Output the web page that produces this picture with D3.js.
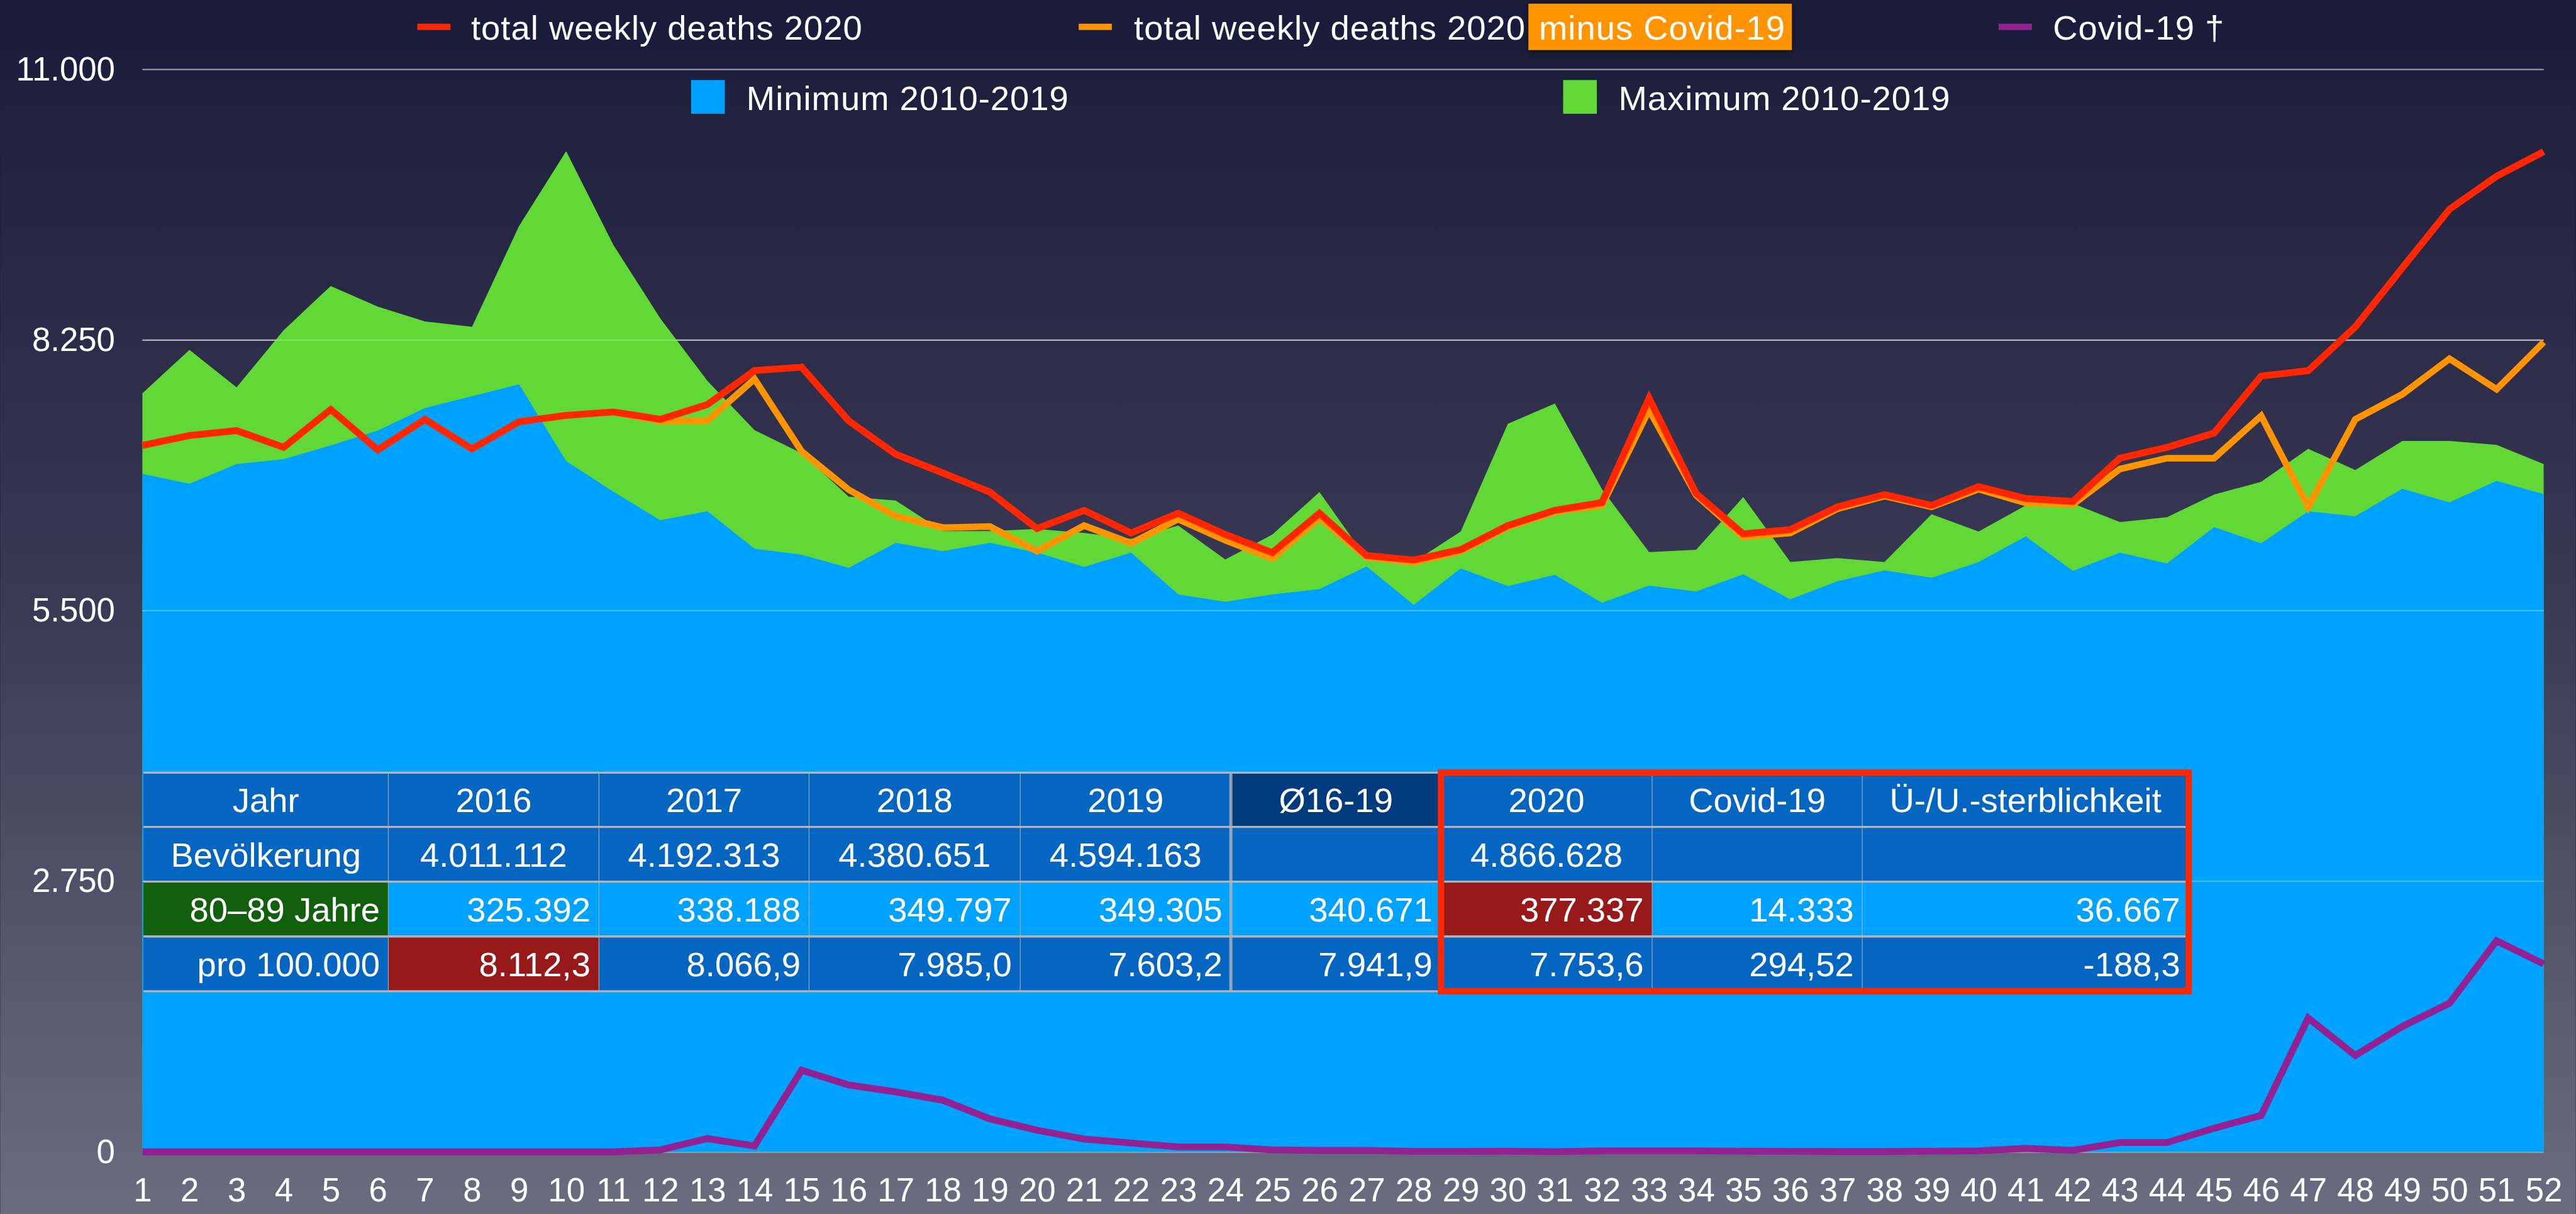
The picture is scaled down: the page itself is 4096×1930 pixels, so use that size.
<!DOCTYPE html>
<html>
<head>
<meta charset="utf-8">
<script src="https://cdn.jsdelivr.net/npm/d3@7"></script>
<style>
  html, body { margin: 0; padding: 0; background: #1a1b3b; overflow: hidden; }
  svg { display: block; }
</style>
</head>
<body>
<svg id="chart" width="4096" height="1930" viewBox="0 0 4891 2305"></svg>
<script>
// ---- data -------------------------------------------------------------
const weeks = [1,2,3,4,5,6,7,8,9,10,11,12,13,14,15,16,17,18,19,20,21,22,23,24,25,26,
               27,28,29,30,31,32,33,34,35,36,37,38,39,40,41,42,43,44,45,46,47,48,49,50,51,52];
const yTicks = [0, 2750, 5500, 8250, 11000];

const minimum2010_2019 = [6890,6790,6990,7040,7180,7330,7560,7680,7800,7020,6710,6420,6510,6130,6070,5935,
  6190,6105,6190,6090,5945,6090,5665,5590,5665,5720,5950,5560,5930,5750,5865,5580,5755,5695,5870,5615,
  5800,5910,5835,5995,6255,5905,6090,5980,6350,6185,6510,6460,6740,6600,6820,6685];

const maximum2010_2019 = [7710,8150,7770,8350,8800,8590,8440,8385,9410,10170,9220,8470,7835,7335,7100,6660,
  6620,6310,6310,6330,6290,6230,6365,6020,6275,6705,6030,5995,6305,7400,7605,6735,6095,6120,6655,5995,
  6035,5995,6480,6305,6570,6590,6400,6450,6680,6810,7145,6930,7225,7225,7185,6990];

const deaths2020 = [7180,7280,7330,7160,7545,7135,7445,7145,7420,7485,7520,7445,7595,7940,7975,7430,
  7090,6900,6705,6335,6520,6290,6490,6275,6090,6490,6060,6015,6120,6365,6520,6600,7660,6690,6280,6325,
  6555,6680,6570,6760,6640,6610,7050,7160,7305,7885,7940,8385,8985,9580,9915,10165];

const deaths2020MinusCovid = [7180,7280,7330,7160,7545,7135,7445,7145,7420,7485,7520,7425,7430,7855,7120,6730,
  6460,6345,6355,6105,6365,6185,6430,6215,6030,6445,6045,5990,6105,6350,6505,6570,7540,6675,6250,6290,
  6535,6665,6555,6735,6595,6580,6940,7050,7050,7480,6555,7445,7700,8060,7750,8230];

const covid19 = [0,0,0,0,0,0,0,0,0,0,0,20,135,60,830,680,610,525,335,220,130,90,50,50,20,15,
  15,5,5,7,2,10,10,10,7,5,3,3,7,10,35,15,95,95,240,370,1360,980,1275,1510,2145,1910];

const legendRow1 = ["total weekly deaths 2020", "total weekly deaths 2020", "Covid-19 †"];
const legendHighlight = "minus Covid-19";
const legendRow2 = ["Minimum 2010-2019", "Maximum 2010-2019"];

const tableHeader  = ["Jahr", "2016", "2017", "2018", "2019", "Ø16-19", "2020", "Covid-19", "Ü-/U.-sterblichkeit"];
const tablePop     = ["Bevölkerung", "4.011.112", "4.192.313", "4.380.651", "4.594.163", "", "4.866.628", "", ""];
const tableAge8089 = ["80–89 Jahre", "325.392", "338.188", "349.797", "349.305", "340.671", "377.337", "14.333", "36.667"];
const tablePer100k = ["pro 100.000", "8.112,3", "8.066,9", "7.985,0", "7.603,2", "7.941,9", "7.753,6", "294,52", "-188,3"];

// ---- styles -----------------------------------------------------------
const FONT = "'Liberation Sans', Arial, Helvetica, sans-serif";
const C = {
  red: "#ff2600", orange: "#ff9300", purple: "#942192",
  blue: "#00a2ff", green: "#61d836",
  cell: "#0466c1", cellDark: "#003b7e", cellGreen: "#125f0e", cellRed: "#97191a",
  rule: "#b4b4b8"
};

// ---- setup ------------------------------------------------------------
const svg = d3.select("#chart");
const W = 4891, H = 2305;
const x = d3.scaleLinear().domain([1, 52]).range([270, 4830]);
const y = d3.scaleLinear().domain([0, 11000]).range([2187, 132]);
const de = d3.formatLocale({ decimal: ",", thousands: ".", grouping: [3], currency: ["", " €"] });
const fmtInt = de.format(",");

const defs = svg.append("defs");
const bg = defs.append("linearGradient").attr("id", "bg").attr("x1", 0).attr("y1", 0).attr("x2", 0).attr("y2", 1);
bg.append("stop").attr("offset", 0).attr("stop-color", "#1a1b3a");
bg.append("stop").attr("offset", 0.5).attr("stop-color", "#3a3a55");
bg.append("stop").attr("offset", 1).attr("stop-color", "#6b6c80");
const shadow = defs.append("filter").attr("id", "shadow").attr("x", "-20%").attr("y", "-40%").attr("width", "140%").attr("height", "180%");
shadow.append("feDropShadow").attr("dx", 0).attr("dy", 4).attr("stdDeviation", 7)
  .attr("flood-color", "#000").attr("flood-opacity", 0.55);

svg.append("rect").attr("width", W).attr("height", H).attr("fill", "url(#bg)");

// ---- grid (behind areas) ---------------------------------------------
svg.append("g").selectAll("line").data(yTicks).join("line")
  .attr("x1", x(1)).attr("x2", x(52))
  .attr("y1", d => y(d)).attr("y2", d => y(d))
  .attr("stroke", "#a6a6ae").attr("stroke-width", d => d === 0 ? 4 : 2.5);

// ---- areas ------------------------------------------------------------
const areaGen = d3.area().x((d, i) => x(weeks[i])).y0(y(0)).y1(d => y(d));
svg.append("path").datum(maximum2010_2019).attr("d", areaGen).attr("fill", C.green);
svg.append("path").datum(minimum2010_2019).attr("d", areaGen).attr("fill", C.blue);

// faint grid showing through the areas
svg.append("g").selectAll("line").data(yTicks.filter(d => d > 0 && d < 11000)).join("line")
  .attr("x1", x(1)).attr("x2", x(52))
  .attr("y1", d => y(d)).attr("y2", d => y(d))
  .attr("stroke", "#ffffff").attr("stroke-opacity", 0.28).attr("stroke-width", 2.5);

// ---- lines ------------------------------------------------------------
const lineGen = d3.line().x((d, i) => x(weeks[i])).y(d => y(d));
function drawLine(data, color, width) {
  svg.append("path").datum(data).attr("d", lineGen)
    .attr("fill", "none").attr("stroke", color).attr("stroke-width", width)
    .attr("stroke-linejoin", "miter").attr("stroke-miterlimit", 10);
}
drawLine(covid19, C.purple, 13);
drawLine(deaths2020MinusCovid, C.orange, 12.5);
drawLine(deaths2020, C.red, 13);

// ---- axes -------------------------------------------------------------
const yAxis = d3.axisLeft(y).tickValues(yTicks).tickFormat(fmtInt).tickSize(0).tickPadding(52);
svg.append("g").attr("transform", `translate(${x(1)},0)`).call(yAxis)
  .call(g => g.select(".domain").remove())
  .attr("font-family", FONT).attr("font-size", 63)
  .selectAll("text").attr("fill", "#ffffff");

const xAxis = d3.axisBottom(x).tickValues(weeks).tickFormat(d => String(d)).tickSize(0).tickPadding(49);
svg.append("g").attr("transform", `translate(0,${y(0)})`).call(xAxis)
  .call(g => g.select(".domain").remove())
  .attr("font-family", FONT).attr("font-size", 63)
  .selectAll("text").attr("fill", "#ffffff");

// ---- table ------------------------------------------------------------
const colEdges = [272, 737, 1137, 1536, 1937, 2337, 2736, 3137, 3536, 4156];
const rowEdges = [1467, 1570, 1674, 1778, 1882];
const rows = [tableHeader, tablePop, tableAge8089, tablePer100k];
const cellFill = (r, c) => {
  if (r === 0 && c === 5) return C.cellDark;
  if (r === 2 && c === 0) return C.cellGreen;
  if (r === 2 && c === 6) return C.cellRed;
  if (r === 3 && c === 1) return C.cellRed;
  if (r === 2) return C.blue;
  return C.cell;
};
const table = svg.append("g").attr("font-family", FONT).attr("font-size", 65);
const cells = [];
rows.forEach((row, r) => row.forEach((txt, c) => cells.push({ r, c, txt })));
table.selectAll("rect.cell").data(cells).join("rect").attr("class", "cell")
  .attr("x", d => colEdges[d.c]).attr("y", d => rowEdges[d.r])
  .attr("width", d => colEdges[d.c + 1] - colEdges[d.c])
  .attr("height", d => rowEdges[d.r + 1] - rowEdges[d.r])
  .attr("fill", d => cellFill(d.r, d.c));
// vertical rules
table.selectAll("line.v").data(colEdges.slice(1, -1)).join("line").attr("class", "v")
  .attr("x1", d => d).attr("x2", d => d).attr("y1", rowEdges[0]).attr("y2", rowEdges[4])
  .attr("stroke", C.rule).attr("stroke-opacity", 0.8).attr("stroke-width", d => d === 2337 ? 6 : 1.5);
// horizontal rules
table.selectAll("line.h").data(rowEdges).join("line").attr("class", "h")
  .attr("x1", colEdges[0]).attr("x2", colEdges[9]).attr("y1", d => d).attr("y2", d => d)
  .attr("stroke", C.rule).attr("stroke-width", 4);
// highlight frame around 2020 columns
table.append("rect")
  .attr("x", colEdges[6]).attr("y", rowEdges[0])
  .attr("width", colEdges[9] - colEdges[6]).attr("height", rowEdges[4] - rowEdges[0])
  .attr("fill", "none").attr("stroke", C.red).attr("stroke-width", 12);
// cell texts
table.selectAll("text").data(cells.filter(d => d.txt !== "")).join("text")
  .attr("fill", "#ffffff")
  .attr("x", d => d.r < 2 ? (colEdges[d.c] + colEdges[d.c + 1]) / 2 : colEdges[d.c + 1] - 16)
  .attr("y", d => (rowEdges[d.r] + rowEdges[d.r + 1]) / 2)
  .attr("dy", "0.36em")
  .attr("text-anchor", d => d.r < 2 ? "middle" : "end")
  .text(d => d.txt);

// ---- legend -----------------------------------------------------------
const leg = svg.append("g").attr("font-family", FONT).attr("font-size", 65)
  .attr("letter-spacing", 1.2).attr("fill", "#ffffff");
const row1 = [
  { sx: 792, tx: 894, color: C.red, label: legendRow1[0] },
  { sx: 2048, tx: 2153, color: C.orange, label: legendRow1[1] },
  { sx: 3795, tx: 3898, color: C.purple, label: legendRow1[2] }
];
row1.forEach((d, i) => {
  leg.append("rect").attr("x", d.sx).attr("y", 45).attr("width", 63).attr("height", 12).attr("fill", d.color);
  const t = leg.append("text").attr("x", d.tx).attr("y", 75).text(d.label);
  if (i === 1) {
    const end = d.tx + t.node().getComputedTextLength();
    const hl = leg.append("g");
    const r = hl.append("rect").attr("x", end + 5).attr("y", 7).attr("height", 88)
      .attr("fill", C.orange).attr("filter", "url(#shadow)");
    const t2 = hl.append("text").attr("x", end + 25).attr("y", 75).text(legendHighlight);
    r.attr("width", t2.node().getComputedTextLength() + 32);
  }
});
const row2 = [
  { sx: 1312, tx: 1417, color: C.blue, label: legendRow2[0] },
  { sx: 2968, tx: 3073, color: C.green, label: legendRow2[1] }
];
row2.forEach(d => {
  leg.append("rect").attr("x", d.sx).attr("y", 152).attr("width", 64).attr("height", 64).attr("fill", d.color);
  leg.append("text").attr("x", d.tx).attr("y", 209).text(d.label);
});
</script>
</body>
</html>
